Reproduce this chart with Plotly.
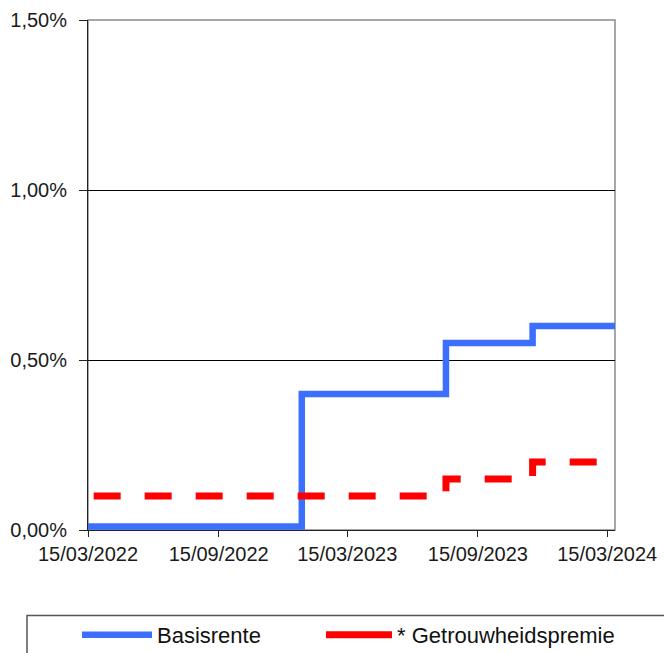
import plotly.graph_objects as go

# Data
basis_dates = ["2022-03-15", "2023-01-10", "2023-08-01", "2023-12-01", "2024-03-26"]
basis_values = [0.0001, 0.0040, 0.0055, 0.0060, 0.0060]

premie_dates = ["2022-03-23", "2023-08-01", "2023-12-01", "2024-03-05"]
premie_values = [0.0010, 0.0015, 0.0020, 0.0020]

x_ticks = ["2022-03-15", "2022-09-15", "2023-03-15", "2023-09-15", "2024-03-15"]
y_ticks = [0, 0.005, 0.010, 0.015]

FONT = "Liberation Sans, Arial, sans-serif"
BLUE = "#3D6FFF"
RED = "#FF0000"

# the page body adds an 8px offset; positions below are in screen pixels
OFF = 8
W, H = 672, 653
L, R, T, B = 88 - OFF, W - (615 - OFF), 20 - OFF, H - (530 - OFF)
PW, PH = W - L - R, H - T - B


def px_x(p):
    return (p - OFF - L) / PW


def px_y(p):
    return (H - B - (p - OFF)) / PH


fig = go.Figure()
fig.add_trace(go.Scatter(
    x=basis_dates, y=basis_values, mode="lines", name="Basisrente",
    showlegend=False,
    line=dict(color=BLUE, width=6.5, shape="hv"),
))
fig.add_trace(go.Scatter(
    x=premie_dates, y=premie_values, mode="lines", name="* Getrouwheidspremie",
    showlegend=False,
    line=dict(color=RED, width=7, shape="hv", dash="27px,24px"),
))
# legend entries (solid samples, as in the reference legend)
fig.add_trace(go.Scatter(
    x=[None], y=[None], mode="lines", name="Basisrente", legend="legend",
    line=dict(color=BLUE, width=6.5),
))
fig.add_trace(go.Scatter(
    x=[None], y=[None], mode="lines", name="* Getrouwheidspremie", legend="legend2",
    line=dict(color=RED, width=7),
))

legend_common = dict(
    orientation="h", xanchor="left", yanchor="middle",
    font=dict(family=FONT, size=22, color="#111111"),
    bgcolor="rgba(0,0,0,0)", borderwidth=0,
)

fig.update_layout(
    width=W, height=H,
    margin=dict(l=L, r=R, t=T, b=B, autoexpand=False),
    paper_bgcolor="white", plot_bgcolor="white",
    separators=",.",
    font=dict(family=FONT, size=20, color="#1a1a1a"),
    showlegend=True,
    legend=dict(x=px_x(77), y=px_y(635), itemwidth=70, **legend_common),
    legend2=dict(x=px_x(321), y=px_y(635), itemwidth=66, **legend_common),
    shapes=[
        dict(type="rect", xref="paper", yref="paper", x0=0, x1=1, y0=0, y1=1,
             line=dict(color="#8a8a8a", width=1.5), layer="below"),
        dict(type="rect", xref="paper", yref="paper",
             x0=px_x(27), x1=px_x(720), y0=px_y(690), y1=px_y(615.5),
             line=dict(color="#555555", width=1.5), layer="below"),
    ],
)

fig.update_xaxes(
    type="date", range=["2022-03-15", "2024-03-26"],
    tickvals=x_ticks, tickformat="%d/%m/%Y",
    showgrid=False, zeroline=False, automargin=False,
    showline=True, linecolor="#222222", linewidth=1,
    ticks="outside", ticklen=6, tickcolor="#222222",
    tickfont=dict(family=FONT, size=20, color="#1a1a1a"),
)
fig.update_yaxes(
    range=[0, 0.015], tickvals=y_ticks, tickformat=".2%",
    showgrid=True, gridcolor="#000000", gridwidth=1,
    zeroline=False, automargin=False,
    showline=True, linecolor="#222222", linewidth=1,
    ticks="outside", ticklen=8, tickcolor="#222222",
    ticklabelstandoff=8,
    tickfont=dict(family=FONT, size=20, color="#1a1a1a"),
)

fig.write_html("out.html")
